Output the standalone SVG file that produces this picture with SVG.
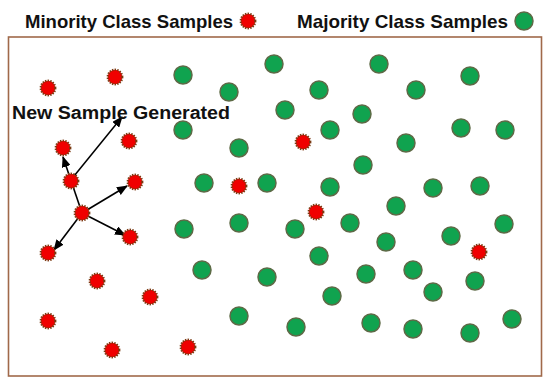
<svg xmlns="http://www.w3.org/2000/svg" width="550" height="387" viewBox="0 0 550 387">
<defs>
<style>
.title{font-family:"Liberation Sans",Arial,sans-serif;font-weight:bold;font-size:19px;fill:#111}
.lbl{font-family:"Liberation Sans",Arial,sans-serif;font-weight:bold;font-size:18px;fill:#111}
.min{fill:#f00000;stroke:#7a3a12;stroke-width:2.2;stroke-dasharray:1.4 1.2}
.maj{fill:#10a34f;stroke:#5d6a46;stroke-width:1.5}
.arr{stroke:#000;stroke-width:1.6;fill:none;marker-end:url(#ah)}
</style>
<marker id="ah" markerUnits="userSpaceOnUse" markerWidth="11" markerHeight="9" refX="10" refY="4.5" orient="auto">
<path d="M0,0 L11,4.5 L0,9 z" fill="#000"/>
</marker>
<circle id="r" r="7.3" class="min"/>
<circle id="g" r="9" class="maj"/>
</defs>
<rect x="0" y="0" width="550" height="387" fill="#fff"/>
<rect id="frame" x="8.5" y="37" width="533" height="339" fill="none" stroke="#a0694a" stroke-width="1.6"/>
<g id="legend">
<text class="title" x="25" y="28" textLength="208" lengthAdjust="spacingAndGlyphs">Minority Class Samples</text>
<use href="#r" x="248" y="21"/>
<text class="title" x="297" y="28" textLength="211" lengthAdjust="spacingAndGlyphs">Majority Class Samples</text>
<use href="#g" x="524" y="21"/>
</g>
<g id="connectors">
<line class="arr" x1="82" y1="213" x2="63" y2="157"/>
<line class="arr" x1="70" y1="181" x2="122" y2="117"/>
<line class="arr" x1="82" y1="213" x2="127" y2="186"/>
<line class="arr" x1="82" y1="213" x2="125" y2="235"/>
<line class="arr" x1="82" y1="213" x2="54" y2="250"/>
</g>
<g id="label-new"><text class="lbl" x="12" y="119" textLength="218" lengthAdjust="spacingAndGlyphs">New Sample Generated</text></g>
<g id="minority">
<g id="m1"><use href="#r" x="48" y="88"/></g>
<g id="m2"><use href="#r" x="115" y="77"/></g>
<g id="m3"><use href="#r" x="63" y="148"/></g>
<g id="m4"><use href="#r" x="129" y="141"/></g>
<g id="m5"><use href="#r" x="71" y="181"/></g>
<g id="m6"><use href="#r" x="135" y="182"/></g>
<g id="m7"><use href="#r" x="82" y="213"/></g>
<g id="m8"><use href="#r" x="130" y="237"/></g>
<g id="m9"><use href="#r" x="48" y="253"/></g>
<g id="m10"><use href="#r" x="97" y="281"/></g>
<g id="m11"><use href="#r" x="150" y="297"/></g>
<g id="m12"><use href="#r" x="48" y="321"/></g>
<g id="m13"><use href="#r" x="112" y="350"/></g>
<g id="m14"><use href="#r" x="188" y="347"/></g>
<g id="m15"><use href="#r" x="303" y="142"/></g>
<g id="m16"><use href="#r" x="239" y="186"/></g>
<g id="m17"><use href="#r" x="316" y="212"/></g>
<g id="m18"><use href="#r" x="479" y="252"/></g>
</g>
<g id="majority">
<g id="g1"><use href="#g" x="183" y="75"/></g>
<g id="g2"><use href="#g" x="274" y="64"/></g>
<g id="g3"><use href="#g" x="379" y="64"/></g>
<g id="g4"><use href="#g" x="470" y="76"/></g>
<g id="g5"><use href="#g" x="229" y="92"/></g>
<g id="g6"><use href="#g" x="319" y="90"/></g>
<g id="g7"><use href="#g" x="416" y="90"/></g>
<g id="g8"><use href="#g" x="285" y="110"/></g>
<g id="g9"><use href="#g" x="362" y="114"/></g>
<g id="g10"><use href="#g" x="183" y="130"/></g>
<g id="g11"><use href="#g" x="330" y="130"/></g>
<g id="g12"><use href="#g" x="461" y="128"/></g>
<g id="g13"><use href="#g" x="505" y="130"/></g>
<g id="g14"><use href="#g" x="239" y="148"/></g>
<g id="g15"><use href="#g" x="406" y="143"/></g>
<g id="g16"><use href="#g" x="363" y="165"/></g>
<g id="g17"><use href="#g" x="204" y="183"/></g>
<g id="g18"><use href="#g" x="267" y="183"/></g>
<g id="g19"><use href="#g" x="330" y="187"/></g>
<g id="g20"><use href="#g" x="433" y="188"/></g>
<g id="g21"><use href="#g" x="480" y="186"/></g>
<g id="g22"><use href="#g" x="396" y="206"/></g>
<g id="g23"><use href="#g" x="239" y="223"/></g>
<g id="g24"><use href="#g" x="350" y="223"/></g>
<g id="g25"><use href="#g" x="504" y="224"/></g>
<g id="g26"><use href="#g" x="184" y="229"/></g>
<g id="g27"><use href="#g" x="295" y="229"/></g>
<g id="g28"><use href="#g" x="386" y="242"/></g>
<g id="g29"><use href="#g" x="451" y="236"/></g>
<g id="g30"><use href="#g" x="319" y="256"/></g>
<g id="g31"><use href="#g" x="202" y="270"/></g>
<g id="g32"><use href="#g" x="267" y="277"/></g>
<g id="g33"><use href="#g" x="366" y="274"/></g>
<g id="g34"><use href="#g" x="413" y="270"/></g>
<g id="g35"><use href="#g" x="475" y="281"/></g>
<g id="g36"><use href="#g" x="332" y="296"/></g>
<g id="g37"><use href="#g" x="433" y="292"/></g>
<g id="g38"><use href="#g" x="239" y="316"/></g>
<g id="g39"><use href="#g" x="296" y="327"/></g>
<g id="g40"><use href="#g" x="371" y="323"/></g>
<g id="g41"><use href="#g" x="413" y="329"/></g>
<g id="g42"><use href="#g" x="470" y="333"/></g>
<g id="g43"><use href="#g" x="512" y="319"/></g>
</g>
</svg>
